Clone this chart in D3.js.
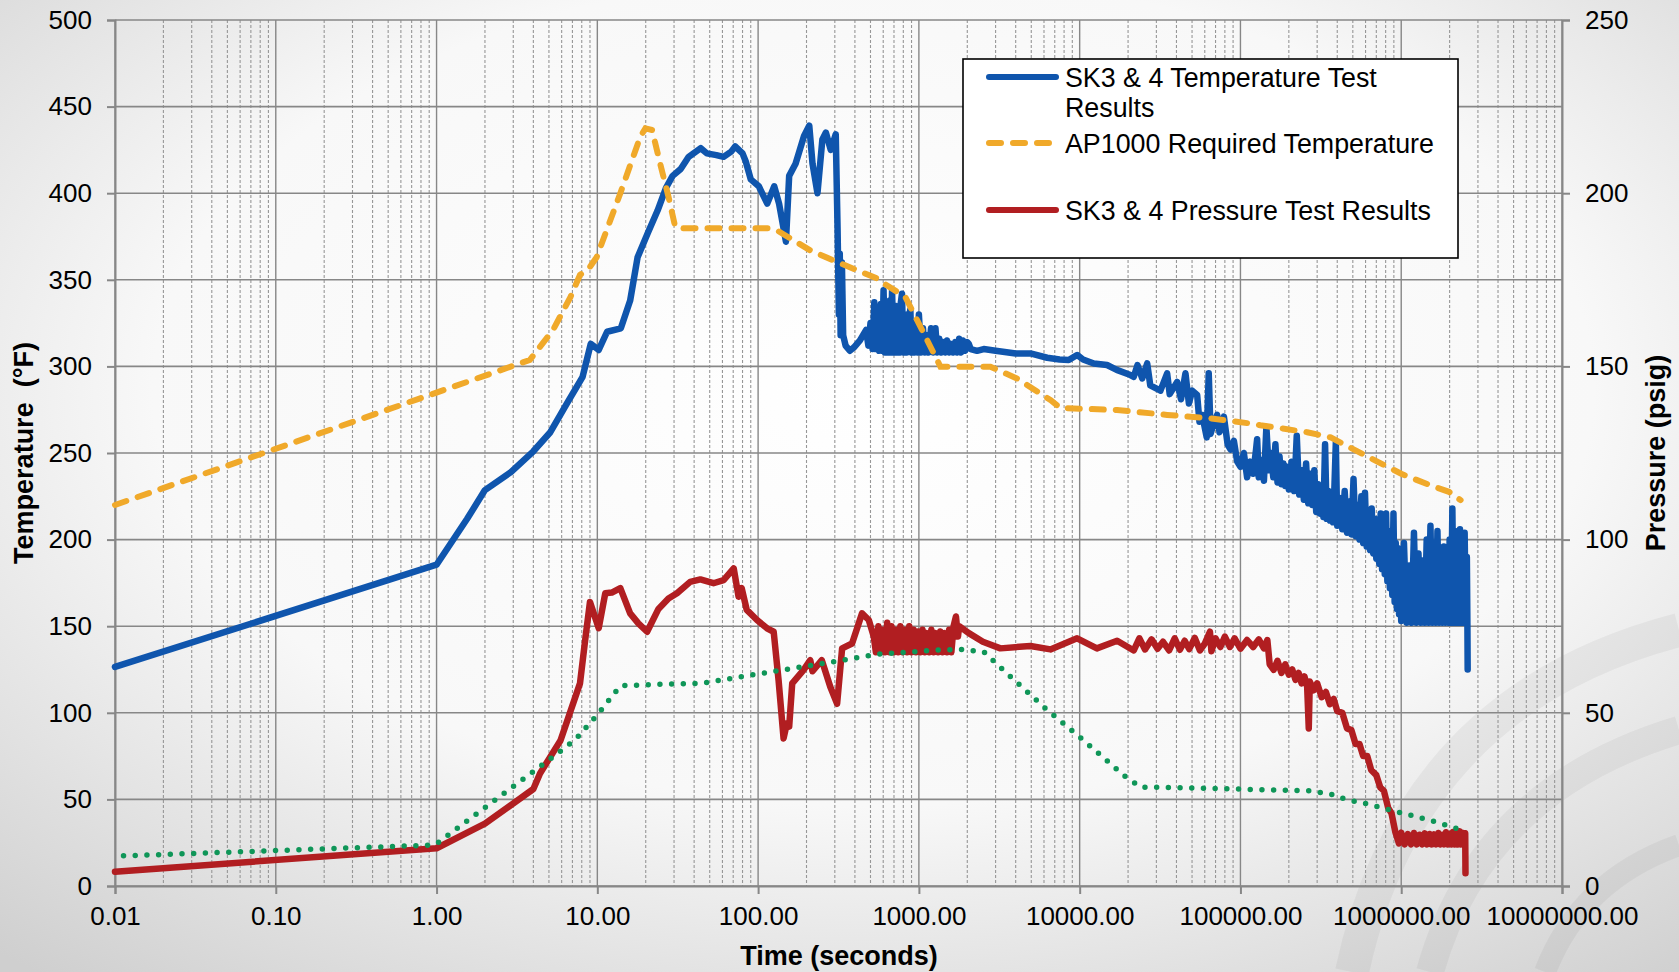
<!DOCTYPE html>
<html>
<head>
<meta charset="utf-8">
<title>SK3 &amp; 4 Test Results</title>
<script src="https://cdn.jsdelivr.net/npm/d3@7"></script>
<style>
    html, body { margin: 0; padding: 0; background: #e6e6e6; overflow: hidden; }
    #visualizer svg { display: block; font-family: "Liberation Sans", Arial, sans-serif; }
</style>
</head>
<body>
<div id="visualizer"></div>
<script>
// Tick labels
const timeTicks = [0.01, 0.1, 1, 10, 100, 1000, 10000, 100000, 1000000, 10000000];
const tempTicks = [0, 50, 100, 150, 200, 250, 300, 350, 400, 450, 500];
const pressureTicks = [0, 50, 100, 150, 200, 250];

// Legend (third slot is left empty in the original)
const legendLabels = [
    ["SK3 & 4 Temperature Test", "Results"],
    ["AP1000 Required Temperature"],
    [],
    ["SK3 & 4 Pressure Test Results"]
];

// SK3 & 4 Temperature Test Results  [time (s), temperature (°F)]
const tempTest = [
    [0.01, 126.5], [1, 185.5], [1.55, 212], [2, 228.6], [2.9, 239], [4, 251], [5.1, 262], [6.5, 279],
    [8.1, 294], [9.1, 313], [10.2, 309.5], [11.5, 320], [14, 322], [16, 338], [17.8, 363], [20.6, 377],
    [23.7, 390], [26.7, 403], [29.4, 410], [33, 414], [37, 421], [44, 426], [48, 423], [55, 422],
    [61, 421], [68, 424], [72, 427], [80, 423], [84, 418], [90, 408], [101, 404], [114, 394],
    [126, 404], [135, 394], [149, 372], [156, 410], [171, 417], [193, 433], [208, 439], [218, 417],
    [234, 400], [251, 431], [264, 435], [283, 425], [304, 434], [312, 380], [318, 330], [322, 365],
    [326, 318], [332, 360], [338, 318], [350, 312], [372, 309], [395, 311], [430, 315], [469, 321],
    [485, 312], [500, 325], [515, 310], [528, 337], [540, 310], [552, 328], [565, 309], [580, 336],
    [592, 309], [603, 344], [615, 308], [630, 330], [645, 308], [660, 338], [672, 308], [681, 344],
    [695, 308], [710, 335], [725, 308], [740, 322], [755, 308], [770, 336], [785, 342], [800, 308],
    [820, 330], [840, 308], [860, 326], [885, 333], [900, 308], [920, 325], [940, 308], [960, 320],
    [980, 308], [1000, 330], [1030, 308], [1060, 322], [1090, 308], [1120, 318], [1150, 308], [1190, 322],
    [1230, 308], [1268, 322], [1300, 308], [1340, 316], [1380, 308], [1420, 314], [1460, 308], [1496, 315],
    [1540, 308], [1580, 313], [1630, 308], [1680, 314], [1730, 308], [1780, 316], [1830, 308], [1880, 315],
    [1940, 309], [2000, 314], [2044, 313], [2100, 310], [2300, 309], [2530, 310], [3000, 309], [4000, 307.5],
    [4940, 307.5], [6280, 305], [7500, 304], [8550, 303.7], [9640, 306.6], [10500, 304], [12250, 301.7], [14800, 300.8],
    [17000, 298], [20700, 295], [21700, 294], [22900, 300.8], [24500, 293], [26300, 301.7], [27500, 289], [31800, 286],
    [35000, 296], [36300, 284], [40400, 291], [42700, 281], [45500, 296], [47800, 278.6], [50100, 286], [53800, 283.5],
    [55600, 268], [57800, 272], [61700, 259], [63500, 296], [65200, 261], [67600, 266], [71600, 272], [74100, 262],
    [78900, 271], [83200, 255], [86700, 252], [91000, 257], [95500, 245], [100000, 242], [105000, 250], [110000, 236],
    [115000, 245], [120000, 238], [125000, 252], [127000, 258], [130000, 236], [135000, 246], [140000, 234], [145000, 265],
    [150000, 240], [155000, 250], [160000, 236], [165000, 255], [170000, 233], [175000, 248], [180000, 232], [185000, 244],
    [190000, 231], [195000, 242], [200000, 229], [208000, 245], [216000, 228], [224000, 260], [232000, 226], [240000, 240],
    [248000, 223], [256000, 244], [264000, 221], [272000, 238], [280000, 220], [288000, 240], [296000, 216], [304000, 232],
    [312000, 215], [320000, 230], [328000, 213], [336000, 255], [344000, 212], [352000, 228], [360000, 211], [368000, 226],
    [376000, 210], [384000, 230], [392000, 256], [400000, 208], [415000, 224], [430000, 206], [445000, 228], [460000, 204],
    [475000, 222], [490000, 203], [505000, 235], [520000, 202], [535000, 220], [550000, 200], [565000, 225], [580000, 198],
    [595000, 227], [610000, 196], [625000, 215], [640000, 194], [655000, 218], [670000, 192], [685000, 212], [700000, 189],
    [715000, 210], [730000, 186], [745000, 215], [760000, 183], [775000, 205], [790000, 180], [805000, 215], [820000, 176],
    [835000, 200], [850000, 172], [865000, 205], [880000, 168], [895000, 215], [910000, 164], [925000, 198], [940000, 160],
    [955000, 195], [970000, 157], [985000, 190], [1000000, 153], [1040000, 198], [1080000, 152], [1120000, 185], [1160000, 152],
    [1200000, 204], [1240000, 152], [1280000, 192], [1320000, 152], [1360000, 188], [1400000, 152], [1440000, 200], [1480000, 152],
    [1520000, 208], [1560000, 152], [1600000, 190], [1640000, 152], [1680000, 205], [1720000, 152], [1760000, 186], [1800000, 152],
    [1840000, 196], [1880000, 152], [1920000, 188], [1960000, 152], [2000000, 200], [2040000, 152], [2080000, 218], [2120000, 152],
    [2160000, 205], [2200000, 152], [2240000, 195], [2280000, 152], [2320000, 206], [2360000, 152], [2400000, 192], [2440000, 152],
    [2480000, 204], [2520000, 152], [2560000, 190], [2580000, 152], [2590000, 125]
];

// AP1000 Required Temperature  [time (s), temperature (°F)]
const tempRequired = [
    [0.01, 220], [3.8, 303.7], [5.3, 321], [6.8, 340], [7.8, 352.8], [9, 357.5], [9.9, 363], [13.9, 400],
    [18.5, 432.6], [19.9, 437.4], [21.9, 436.5], [24.6, 417], [27.7, 398], [30.5, 380.6], [34.4, 379.7], [119, 379.7],
    [134, 378], [211, 367], [325, 359.5], [575, 350], [604, 348], [824, 340], [975, 326.7], [1268, 305.6],
    [1362, 299.8], [2787, 299.8], [4083, 293], [6577, 280.6], [7590, 276], [17100, 274.8], [35000, 272], [65200, 270],
    [115600, 267], [133000, 266], [260000, 262], [364000, 259], [615000, 248], [1000000, 238], [1600000, 230.5], [1980000, 227.6],
    [2340000, 222.8]
];

// SK3 & 4 Pressure Test Results  [time (s), pressure (psig)]
const pressureTest = [
    [0.01, 4.1], [1, 10.9], [2, 18], [4, 28], [4.4, 32.5], [5.9, 42], [7.8, 58.5], [8.4, 71],
    [9, 82], [10.2, 74.4], [11.2, 84.5], [12.3, 84.7], [13.9, 86], [16, 78.7], [18, 75.8], [20.4, 73.4],
    [24, 80], [27.7, 83], [31.3, 84.5], [37.8, 87.8], [43.7, 88.5], [52.8, 87.4], [61, 88.3], [70.5, 91.7],
    [75.6, 83.5], [79, 86], [85, 79.7], [98.4, 76.8], [113.6, 74.4], [125, 73.4], [134, 59.5], [144, 42.6],
    [151, 47], [156, 46], [163, 58.5], [192, 62.4], [211, 65.2], [218, 62], [249, 65.2], [281, 57.5],
    [310, 52.6], [333, 68.6], [384, 70], [443, 78.7], [488, 76.8], [524, 72], [540, 67.5], [560, 75],
    [578, 67.5], [596, 74], [615, 67.5], [635, 76], [655, 67.5], [676, 75], [698, 67.5], [720, 74],
    [743, 67.5], [767, 75], [792, 67.5], [818, 74], [844, 67.5], [871, 75], [899, 67.5], [928, 74],
    [958, 67.5], [989, 73.5], [1021, 67.5], [1054, 74], [1088, 67.5], [1123, 73], [1159, 67.5], [1196, 74],
    [1235, 67.5], [1275, 73], [1316, 67.5], [1358, 73.5], [1402, 67.5], [1447, 73], [1494, 67.5], [1542, 74],
    [1592, 67.5], [1643, 75], [1700, 77.8], [1750, 72], [1780, 75], [2044, 73], [2500, 70.5], [3214, 68.6],
    [4940, 69.3], [6577, 68.3], [9640, 71.5], [12800, 68.6], [17100, 70.8], [21700, 68], [23500, 71.5], [25500, 68.3],
    [28000, 71.2], [30500, 68.5], [33000, 70.5], [36000, 68], [39000, 71.5], [42000, 68.2], [45000, 70.8], [48000, 68.4],
    [52000, 71.6], [56000, 68], [60000, 70], [64600, 73.4], [66000, 67.8], [70000, 71.5], [75000, 69], [80000, 72],
    [86000, 69], [92000, 71.5], [100000, 68.5], [110000, 71], [120000, 69], [130000, 71.2], [140000, 68.6], [147000, 71],
    [152000, 64], [161000, 62.4], [170000, 65], [180000, 61.5], [190000, 64], [200000, 61], [210000, 62.5], [220000, 59.5],
    [230000, 61.5], [240000, 58.5], [250000, 60.5], [260000, 57.5], [266000, 45.5], [270000, 59], [285000, 56.5], [300000, 58.5],
    [320000, 54.5], [340000, 56], [360000, 52.5], [380000, 54], [400000, 50.5], [430000, 50], [460000, 45.5], [490000, 45],
    [520000, 41], [550000, 41], [580000, 37.5], [615000, 37.5], [650000, 33.5], [700000, 32], [740000, 28.5], [780000, 27.5],
    [830000, 22.5], [870000, 21], [920000, 15.5], [968000, 12.3], [1000000, 15.4], [1050000, 12], [1100000, 15], [1150000, 12],
    [1200000, 15.3], [1250000, 12], [1300000, 14.8], [1350000, 12], [1400000, 15.2], [1450000, 12], [1500000, 15], [1550000, 12],
    [1600000, 14.9], [1650000, 12], [1700000, 15.3], [1750000, 12], [1800000, 14.8], [1850000, 12], [1900000, 15.5], [1950000, 12],
    [2000000, 15], [2050000, 12], [2100000, 15.6], [2150000, 12], [2200000, 15.2], [2250000, 12], [2300000, 15.8], [2350000, 12],
    [2400000, 15.4], [2450000, 12], [2500000, 15.2], [2510000, 3.7]
];

// Unlabelled dotted series (pressure axis)  [time (s), pressure (psig)]
const pressureRequired = [
    [0.0113, 8.7], [0.93, 11.8], [1, 12.2], [2.43, 25.6], [4.85, 35.9], [7.3, 42.3], [10.2, 49.9], [13.9, 57.8],
    [27.1, 58.3], [44.7, 58.5], [73.8, 60.2], [144, 62.4], [281, 64.6], [549, 66.9], [1297, 68.1], [1810, 68.3],
    [2530, 67.6], [3214, 63.1], [6120, 51.3], [10300, 42.5], [19100, 31.7], [24000, 28.5], [30300, 28.5], [273000, 27.5],
    [382000, 26.3], [452000, 25], [615000, 23.7], [859000, 21.9], [1200000, 20.2], [1700000, 18.3], [2290000, 16.4]
];

function drawChart() {
    // SVG Props
    const width = 1679,
        height = 972;
    const margin = {
        top: 20,
        right: 117,
        bottom: 86,
        left: 115
    };
    const plotRight = width - margin.right,
        plotBottom = height - margin.bottom;
    const gridColor = "#878787";

    const svg = d3.select("#visualizer")
        .append("svg")
        .attr("width", width)
        .attr("height", height);

    // background
    const defs = svg.append("defs");
    const bg = defs.append("radialGradient")
        .attr("id", "bg")
        .attr("cx", "52%").attr("cy", "40%").attr("r", "78%");
    bg.append("stop").attr("offset", "0%").attr("stop-color", "#ffffff");
    bg.append("stop").attr("offset", "55%").attr("stop-color", "#f8f8f8");
    bg.append("stop").attr("offset", "100%").attr("stop-color", "#cfcfcf");

    svg.append("rect")
        .attr("width", width)
        .attr("height", height)
        .attr("fill", "url(#bg)");

    // faint watermark arcs, bottom right
    const arcs = svg.append("g")
        .attr("fill", "none")
        .attr("stroke", "#000")
        .attr("stroke-opacity", 0.045);
    arcs.append("path").attr("d", "M1352,972 Q1410,700 1679,630").attr("stroke-width", 34);
    arcs.append("path").attr("d", "M1430,972 Q1480,790 1679,730").attr("stroke-width", 28);
    arcs.append("path").attr("d", "M1545,972 Q1580,880 1679,845").attr("stroke-width", 22);

    // scales
    const timeScale = d3.scaleLog()
        .domain([0.01, 10000000])
        .range([margin.left, plotRight]);
    const tempScale = d3.scaleLinear()
        .domain([0, 500])
        .range([plotBottom, margin.top]);
    const pressureScale = d3.scaleLinear()
        .domain([0, 250])
        .range([plotBottom, margin.top]);

    // vertical grid (decades solid, the rest dashed)
    const isDecade = d => Math.abs(Math.log10(d) - Math.round(Math.log10(d))) < 1e-6;
    svg.append("g")
        .selectAll("line")
        .data(timeScale.ticks())
        .join("line")
        .attr("x1", d => timeScale(d))
        .attr("x2", d => timeScale(d))
        .attr("y1", margin.top)
        .attr("y2", plotBottom)
        .attr("stroke", d => isDecade(d) ? gridColor : "#979797")
        .attr("stroke-width", d => isDecade(d) ? 1.4 : 1.1)
        .attr("stroke-dasharray", d => isDecade(d) ? null : "3,2");

    // horizontal grid
    svg.append("g")
        .selectAll("line")
        .data(tempTicks)
        .join("line")
        .attr("x1", margin.left)
        .attr("x2", plotRight)
        .attr("y1", d => tempScale(d))
        .attr("y2", d => tempScale(d))
        .attr("stroke", gridColor)
        .attr("stroke-width", 1.6);

    // axes
    const styleAxis = g => {
        g.select(".domain").attr("stroke", gridColor).attr("stroke-width", 2);
        g.selectAll(".tick line").attr("stroke", gridColor).attr("stroke-width", 2);
        g.selectAll(".tick text")
            .attr("fill", "#000")
            .style("font-size", "26px")
            .style("font-family", "'Liberation Sans', Arial, sans-serif");
    };

    svg.append("g")
        .attr("id", "x-axis")
        .attr("transform", `translate(0, ${ plotBottom })`)
        .call(d3.axisBottom(timeScale)
            .tickValues(timeTicks)
            .tickFormat(d3.format(".2f"))
            .tickSizeOuter(0)
            .tickSize(8)
            .tickPadding(13))
        .call(styleAxis);

    svg.append("g")
        .attr("id", "y-axis")
        .attr("transform", `translate(${ margin.left }, 0)`)
        .call(d3.axisLeft(tempScale)
            .tickValues(tempTicks)
            .tickSizeOuter(0)
            .tickSize(8)
            .tickPadding(15))
        .call(styleAxis);

    svg.append("g")
        .attr("id", "y2-axis")
        .attr("transform", `translate(${ plotRight }, 0)`)
        .call(d3.axisRight(pressureScale)
            .tickValues(pressureTicks)
            .tickSizeOuter(0)
            .tickSize(8)
            .tickPadding(15))
        .call(styleAxis);

    // axis titles
    svg.append("text")
        .attr("x", 839)
        .attr("y", 965)
        .attr("text-anchor", "middle")
        .style("font-size", "27px")
        .style("font-weight", "bold")
        .text("Time (seconds)");

    svg.append("text")
        .attr("transform", `translate(24, ${ (margin.top + plotBottom) / 2 }) rotate(-90)`)
        .attr("text-anchor", "middle")
        .attr("dy", "0.35em")
        .style("font-size", "27px")
        .style("font-weight", "bold")
        .style("white-space", "pre")
        .text("Temperature  (°F)");

    svg.append("text")
        .attr("transform", `translate(1656, ${ (margin.top + plotBottom) / 2 }) rotate(-90)`)
        .attr("text-anchor", "middle")
        .attr("dy", "0.35em")
        .style("font-size", "27px")
        .style("font-weight", "bold")
        .text("Pressure (psig)");

    // lines
    const tempLine = d3.line()
        .x(d => timeScale(d[0]))
        .y(d => tempScale(d[1]));
    const pressureLine = d3.line()
        .x(d => timeScale(d[0]))
        .y(d => pressureScale(d[1]));

    svg.append("path")
        .datum(tempTest)
        .attr("d", tempLine)
        .attr("fill", "none")
        .attr("stroke", "#0f55ad")
        .attr("stroke-width", 6.5)
        .attr("stroke-linejoin", "round")
        .attr("stroke-linecap", "round");

    svg.append("path")
        .datum(pressureTest)
        .attr("d", pressureLine)
        .attr("fill", "none")
        .attr("stroke", "#b11e21")
        .attr("stroke-width", 6.5)
        .attr("stroke-linejoin", "round")
        .attr("stroke-linecap", "round");

    svg.append("path")
        .datum(tempRequired)
        .attr("d", tempLine)
        .attr("fill", "none")
        .attr("stroke", "#f0a92a")
        .attr("stroke-width", 6)
        .attr("stroke-dasharray", "12,12")
        .attr("stroke-linecap", "round");

    svg.append("path")
        .datum(pressureRequired)
        .attr("d", pressureLine)
        .attr("fill", "none")
        .attr("stroke", "#0f9658")
        .attr("stroke-width", 5.5)
        .attr("stroke-dasharray", "0,11.7")
        .attr("stroke-linecap", "round");

    // legend
    const legend = svg.append("g").attr("id", "legend");
    legend.append("rect")
        .attr("x", 963)
        .attr("y", 59)
        .attr("width", 495)
        .attr("height", 199)
        .attr("fill", "#fff")
        .attr("stroke", "#000")
        .attr("stroke-width", 1.6);

    const legendStyles = [
        { color: "#0f55ad", dash: null },
        { color: "#f0a92a", dash: "12,12" },
        null,
        { color: "#b11e21", dash: null }
    ];
    const legendRows = [77, 143, 176, 210];

    legendLabels.forEach((lines, i) => {
        const style = legendStyles[i];
        if (!style) return;
        legend.append("line")
            .attr("x1", 989)
            .attr("x2", 1056)
            .attr("y1", legendRows[i])
            .attr("y2", legendRows[i])
            .attr("stroke", style.color)
            .attr("stroke-width", 6)
            .attr("stroke-linecap", "round")
            .attr("stroke-dasharray", style.dash);
        const text = legend.append("text")
            .attr("x", 1065)
            .attr("y", legendRows[i] + 9.5)
            .style("font-size", "26.8px");
        lines.forEach((line, j) => {
            text.append("tspan")
                .attr("x", 1065)
                .attr("dy", j === 0 ? 0 : 30)
                .text(line);
        });
    });
}

document.addEventListener("DOMContentLoaded", drawChart);
</script>
</body>
</html>
